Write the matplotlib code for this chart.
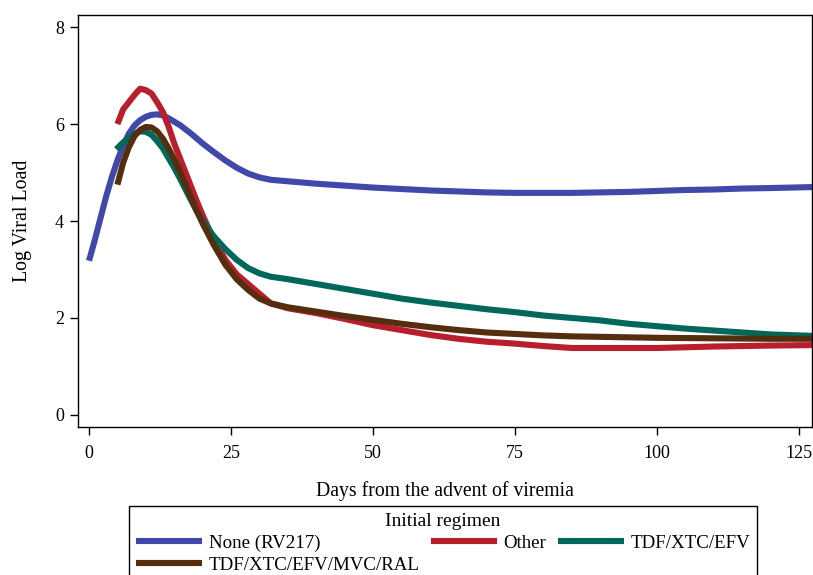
import matplotlib
matplotlib.use("Agg")
import matplotlib.pyplot as plt

plt.rcParams['font.family'] = ['Liberation Serif', 'DejaVu Serif']

none_days = [0, 1, 2, 3, 4, 5, 6, 7, 8, 9, 10, 11, 12, 13, 14, 16, 18, 20, 22, 24, 26, 28, 30, 32,
             36, 40, 45, 50, 55, 60, 65, 70, 75, 80, 85, 90, 95, 100, 105, 110, 115, 120, 127.5]
none_vals = [3.18, 3.6, 4.05, 4.5, 4.9, 5.25, 5.55, 5.8, 5.97, 6.08, 6.15, 6.19, 6.2, 6.18, 6.12,
             5.98, 5.8, 5.6, 5.42, 5.25, 5.1, 4.98, 4.9, 4.85, 4.81, 4.77, 4.73, 4.69, 4.66, 4.63,
             4.61, 4.59, 4.58, 4.58, 4.58, 4.59, 4.6, 4.62, 4.64, 4.65, 4.67, 4.68, 4.7]

other_days = [5, 6, 7, 8, 9, 10, 11, 12, 13, 14, 15, 16, 17, 18, 19, 20, 22, 24, 26, 28, 30, 32,
              35, 40, 45, 50, 55, 60, 65, 70, 75, 80, 85, 90, 100, 110, 120, 127.5]
other_vals = [6.0, 6.3, 6.45, 6.6, 6.73, 6.7, 6.63, 6.45, 6.25, 5.95, 5.6, 5.3, 5.0, 4.7, 4.4,
              4.12, 3.6, 3.2, 2.9, 2.7, 2.5, 2.3, 2.2, 2.1, 1.98, 1.85, 1.75, 1.65, 1.57, 1.51,
              1.47, 1.42, 1.38, 1.38, 1.38, 1.41, 1.43, 1.44]

tdf_days = [4.8, 6, 7, 8, 9, 10, 11, 12, 13, 14, 15, 16, 17, 18, 19, 20, 22, 24, 26, 28, 30, 32,
            35, 40, 45, 50, 55, 60, 65, 70, 75, 80, 85, 90, 95, 100, 105, 110, 115, 120, 127.5]
tdf_vals = [5.48, 5.62, 5.72, 5.8, 5.85, 5.84, 5.78, 5.65, 5.5, 5.3, 5.1, 4.88, 4.65, 4.42, 4.2,
            4.0, 3.68, 3.42, 3.2, 3.03, 2.92, 2.85, 2.8, 2.7, 2.6, 2.5, 2.4, 2.32, 2.25, 2.18,
            2.12, 2.05, 2.0, 1.95, 1.88, 1.83, 1.78, 1.74, 1.7, 1.66, 1.63]

mvc_days = [5, 6, 7, 8, 9, 10, 11, 12, 13, 14, 15, 16, 17, 18, 19, 20, 22, 24, 26, 28, 30, 32,
            35, 40, 45, 50, 55, 60, 65, 70, 75, 80, 85, 90, 100, 110, 120, 127.5]
mvc_vals = [4.75, 5.2, 5.52, 5.75, 5.88, 5.94, 5.93, 5.85, 5.7, 5.5, 5.27, 5.02, 4.75, 4.47, 4.2,
            3.95, 3.5, 3.1, 2.8, 2.58, 2.4, 2.3, 2.22, 2.13, 2.04, 1.96, 1.88, 1.81, 1.75, 1.7,
            1.67, 1.64, 1.62, 1.61, 1.59, 1.58, 1.57, 1.57]

labels = ["None (RV217)", "Other", "TDF/XTC/EFV", "TDF/XTC/EFV/MVC/RAL"]
colors = ["#4048AA", "#B91E2D", "#00685A", "#552D0F"]

fig = plt.figure(figsize=(8.13, 5.75), dpi=100)
ax = fig.add_axes([78/813, 1-427/575, (812-78)/813, (427-15)/575])

lw = 4.4
l1, = ax.plot(none_days, none_vals, color=colors[0], lw=lw, label=labels[0], solid_capstyle='butt')
l2, = ax.plot(other_days, other_vals, color=colors[1], lw=lw, label=labels[1], solid_capstyle='butt')
l3, = ax.plot(tdf_days, tdf_vals, color=colors[2], lw=lw, label=labels[2], solid_capstyle='butt')
l4, = ax.plot(mvc_days, mvc_vals, color=colors[3], lw=lw, label=labels[3], solid_capstyle='butt')

ax.set_xlim(-1.94, 127.3)
ax.set_ylim(-0.25, 8.25)
ax.set_xticks([0, 25, 50, 75, 100, 125])
ax.set_yticks([0, 2, 4, 6, 8])
ax.tick_params(direction='out', length=6, width=1, labelsize=13)
ax.tick_params(axis='x', pad=7)
ax.tick_params(axis='y', pad=4)
for s in ax.spines.values():
    s.set_linewidth(1)
ax.set_xlabel("Days from the advent of viremia", fontsize=14.2, labelpad=14)
ax.set_ylabel("Log Viral Load", fontsize=14.3, labelpad=17)

leg = fig.legend([l1, l4, l2, l3], [labels[0], labels[3], labels[1], labels[2]],
                 ncol=3, loc='upper left', bbox_to_anchor=(129/813, 1-506/575),
                 title="Initial regimen", title_fontsize=14, fontsize=13.6,
                 frameon=True, fancybox=False, edgecolor='black', framealpha=1,
                 handlelength=3.5, handletextpad=0.36, columnspacing=0.6,
                 labelspacing=0.25, borderpad=0.35, borderaxespad=0)
leg.get_frame().set_linewidth(1)

fig.savefig("out.png", dpi=100)
